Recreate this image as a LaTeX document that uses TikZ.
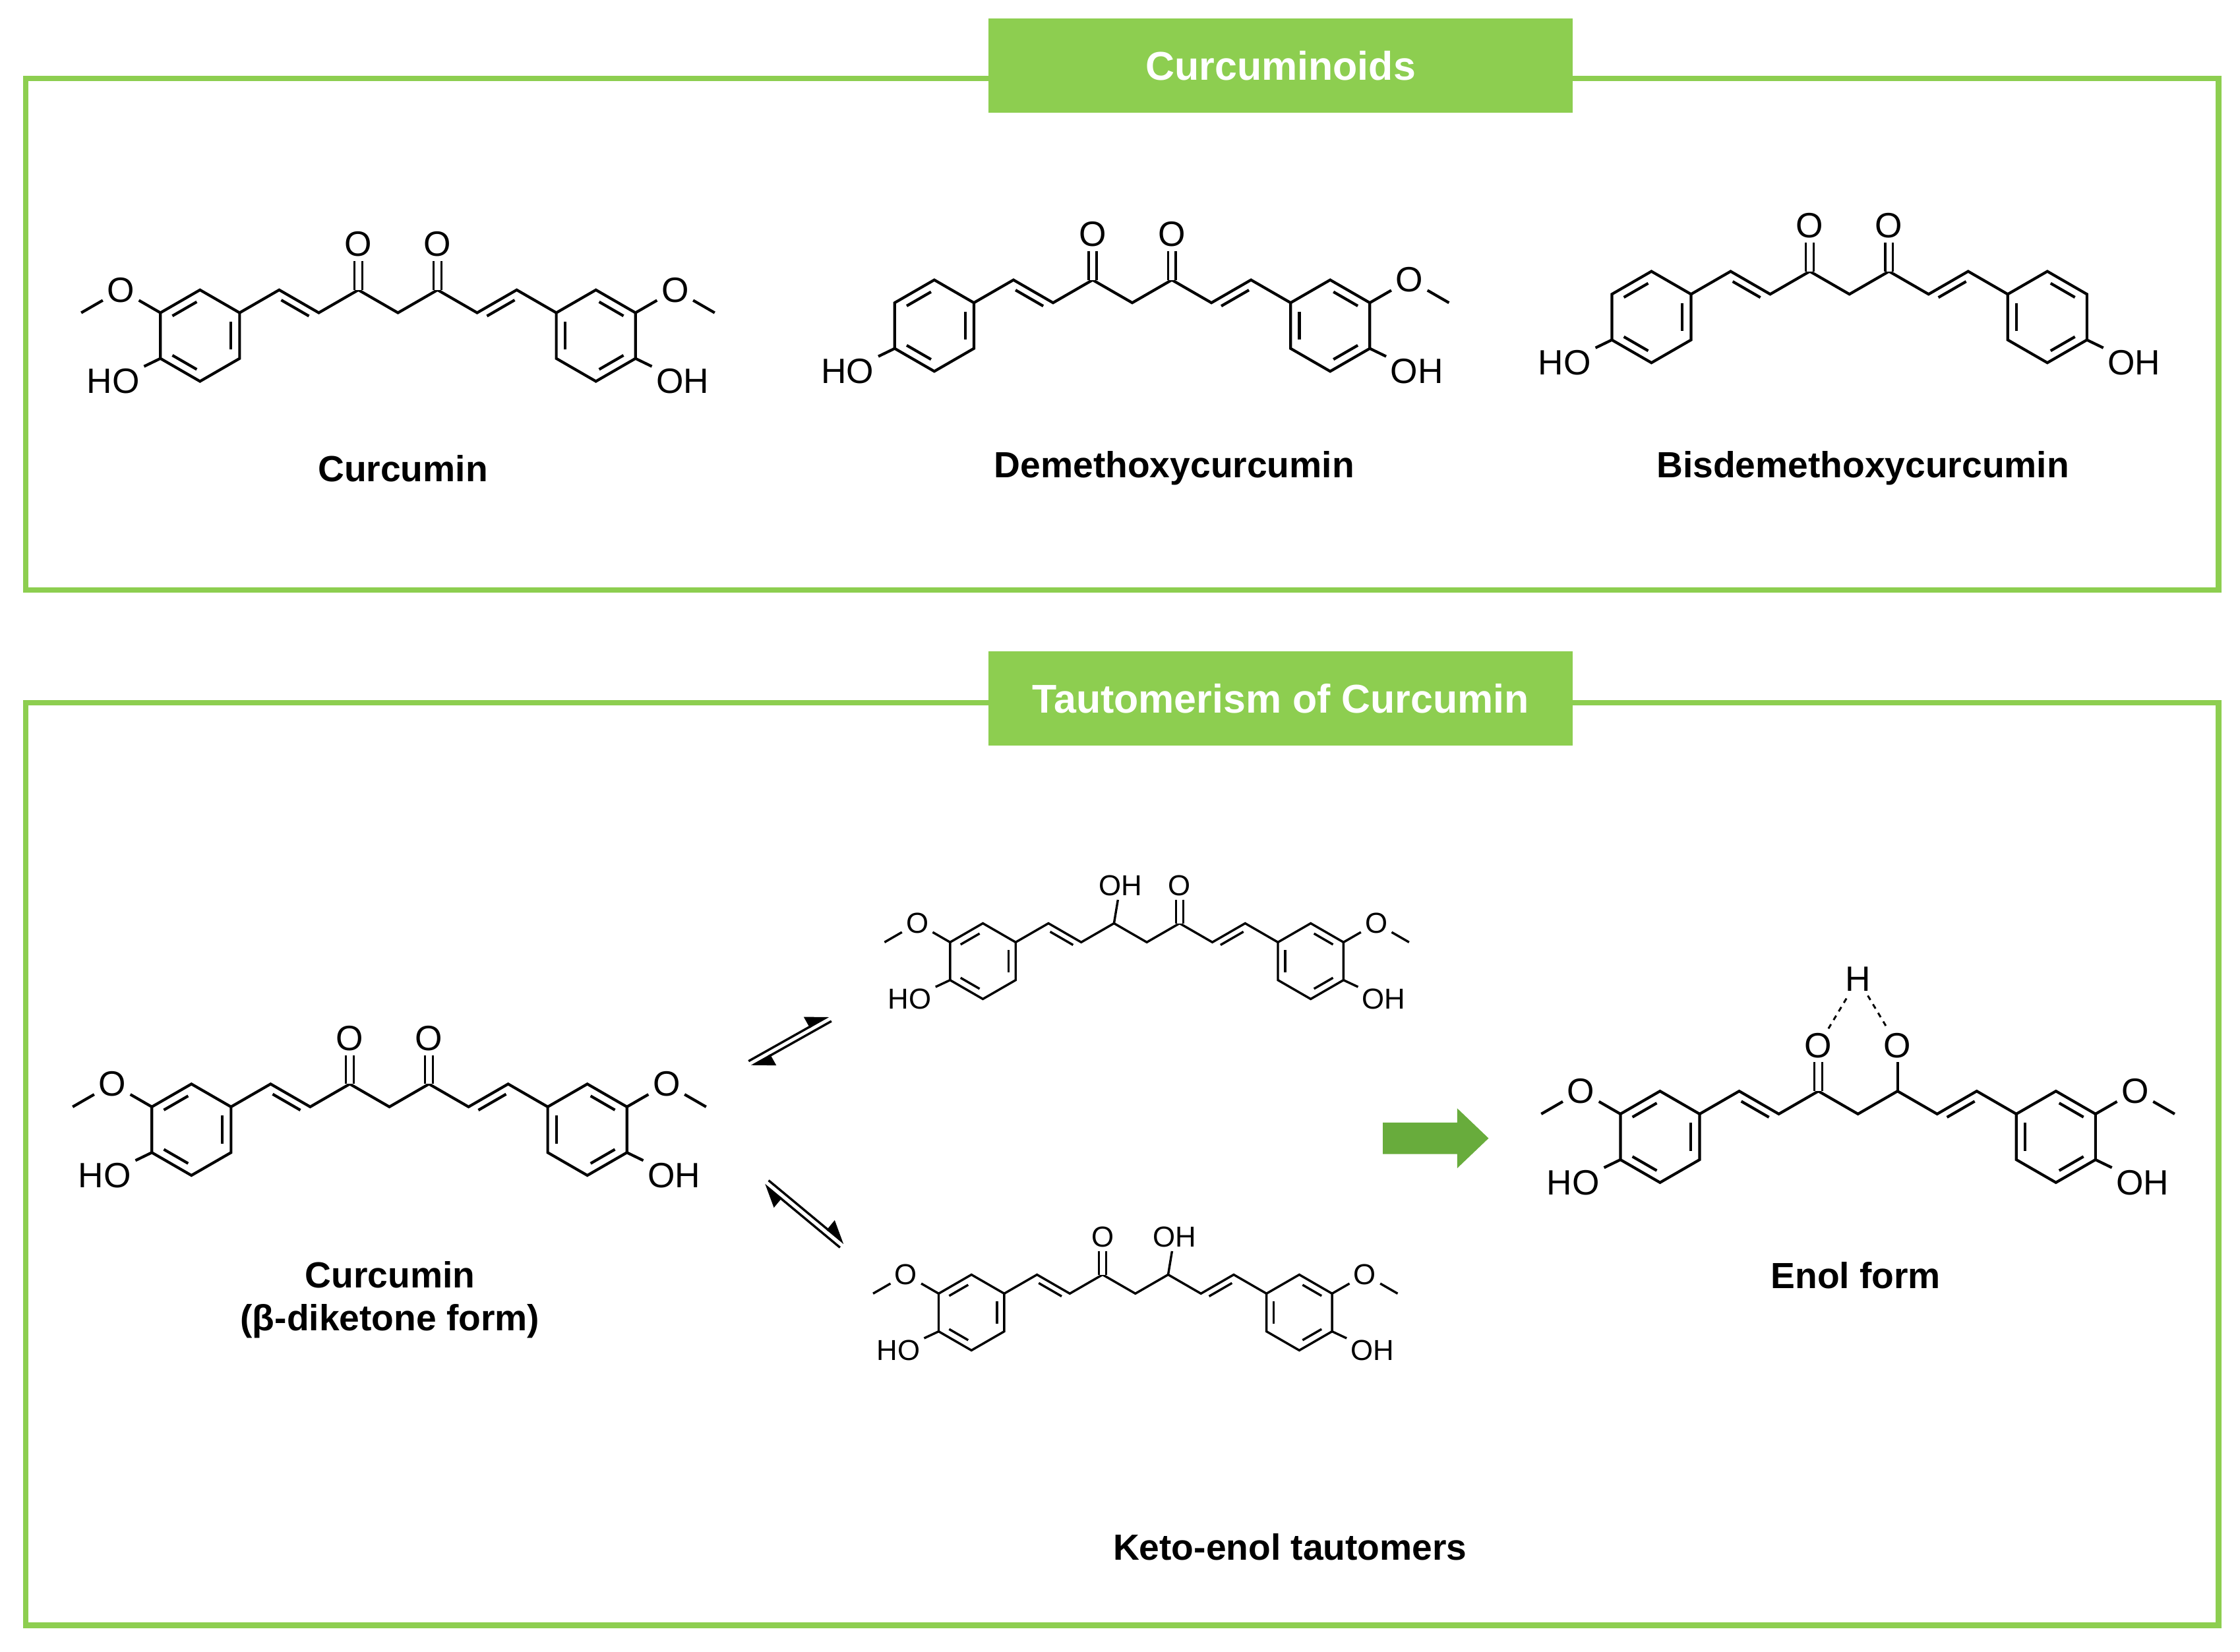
\documentclass[tikz,border=0pt]{standalone}
\usepackage{fontspec}
\setmainfont{Liberation Sans}
\usetikzlibrary{calc,arrows.meta}
\definecolor{grn}{RGB}{141,206,80}
\definecolor{grnd}{RGB}{104,172,60}
\newcommand\mol[9]{%
\pgfmathsetmacro\bb{#4*0.02}%
\begin{scope}[shift={(#2,#3)},x=\bb cm,y=\bb cm,line width=#9,
  atm/.style={inner sep=1.2pt,font=\fontsize{#8}{#8}\selectfont},
  dbl/.style={shorten <=1.5pt,shorten >=1.5pt}]
\coordinate (L1) at (0,1);\coordinate (L2) at (.866,.5);\coordinate (L3) at (.866,-.5);
\coordinate (L4) at (0,-1);\coordinate (L5) at (-.866,-.5);\coordinate (L6) at (-.866,.5);
\coordinate (R1) at (8.66,1);\coordinate (R2) at (9.526,.5);\coordinate (R3) at (9.526,-.5);
\coordinate (R4) at (8.66,-1);\coordinate (R5) at (7.794,-.5);\coordinate (R6) at (7.794,.5);
\coordinate (C1) at (3.464,1);\coordinate (C2) at (5.196,1);
\draw (L1)--(L2)--(L3)--(L4)--(L5)--(L6)--cycle;
\draw[dbl] (.675,.39)--(.675,-.39);\draw[dbl] (0,-.78)--(-.675,-.39);\draw[dbl] (-.675,.39)--(0,.78);
\draw (R1)--(R2)--(R3)--(R4)--(R5)--(R6)--cycle;
\draw[dbl] (8.66,.78)--(9.335,.39);\draw[dbl] (9.335,-.39)--(8.66,-.78);\draw[dbl] (7.985,-.39)--(7.985,.39);
\draw (L2)--(1.732,1)--(2.598,.5)--(C1)--(4.330,.5)--(C2)--(6.062,.5)--(6.928,1)--(R6);
\draw (1.777,.778)--(2.383,.428);
\draw (6.277,.428)--(6.883,.778);
\ifcase#7
 \node[atm] (#1-O1) at (3.464,2) {O};\node[atm] (#1-O2) at (5.196,2) {O};
 \draw[double,double distance=2.2pt,line width=.8*#9] (C1)--(#1-O1);
 \draw[double,double distance=2.2pt,line width=.8*#9] (C2)--(#1-O2);
\or
 \node[atm,xshift=.25em] (#1-O1) at (3.464,2) {OH};\node[atm] (#1-O2) at (5.196,2) {O};
 \draw (C1)--(#1-O1);
 \draw[double,double distance=2.2pt,line width=.8*#9] (C2)--(#1-O2);
\or
 \node[atm] (#1-O1) at (3.464,2) {O};\node[atm,xshift=.25em] (#1-O2) at (5.196,2) {OH};
 \draw[double,double distance=2.2pt,line width=.8*#9] (C1)--(#1-O1);
 \draw (C2)--(#1-O2);
\or
 \node[atm] (#1-O1) at (3.464,2) {O};\node[atm] (#1-O2) at (5.196,2) {O};
 \node[atm] (#1-H) at (4.33,3.45) {H};
 \draw[double,double distance=2.2pt,line width=.8*#9] (C1)--(#1-O1);
 \draw (C2)--(#1-O2);
 \draw[line width=.7*#9,dash pattern=on 2pt off 2pt] (#1-O1)--(#1-H)--(#1-O2);
\fi
\node[atm,xshift=-.3em] (#1-HO) at (-1.732,-1) {HO};\draw (L5)--(#1-HO);
\ifnum#5=1 \node[atm] (#1-OL) at (-1.732,1) {O};\draw (L6)--(#1-OL)--(-2.598,.5);\fi
\node[atm,xshift=.3em] (#1-OH) at (10.392,-1) {OH};\draw (R3)--(#1-OH);
\ifnum#6=1 \node[atm] (#1-OR) at (10.392,1) {O};\draw (R2)--(#1-OR)--(11.258,.5);\fi
\end{scope}}
\begin{document}
\begin{tikzpicture}[x=0.02cm,y=-0.02cm,
  frame/.style={draw=grn,line width=2.2pt},
  head/.style={fill=grn,text=white,font=\fontsize{16}{16}\selectfont\bfseries,minimum width=409*0.02cm,minimum height=66*0.02cm},
  lab/.style={font=\fontsize{14.5}{17}\selectfont\bfseries,align=center},
  eq/.style={line width=0.9pt,-{Triangle[left,length=8pt,width=9pt]}}]
\useasboundingbox (0,0) rectangle (1568,1156.3);
\draw[frame] (18,55) rectangle (1553,413);
\node[head] (h1) at (896.5,46) {Curcuminoids};
\draw[frame] (18,492) rectangle (1553,1138);
\node[head] (h2) at (896.5,489) {Tautomerism of Curcumin};
\mol{m1}{140}{235}{32}{1}{1}{0}{14}{1.1pt}
\mol{m2}{654}{228}{32}{0}{1}{0}{14}{1.1pt}
\mol{m3}{1156}{222}{32}{0}{0}{0}{14}{1.1pt}
\mol{m4}{134}{791}{32}{1}{1}{0}{14}{1.1pt}
\mol{m5}{688}{673}{26.5}{1}{1}{1}{11.5}{0.9pt}
\mol{m6}{680}{919}{26.5}{1}{1}{2}{11.5}{0.9pt}
\mol{m7}{1162}{796}{32}{1}{1}{3}{14}{1.1pt}
\node[lab] (t1) at (282,328) {Curcumin};
\node[lab] (t2) at (822,328) {Demethoxycurcumin};
\node[lab] (t3) at (1304,328) {Bisdemethoxycurcumin};
\node[lab] (t4) at (273,910) {Curcumin\\(β-diketone form)};
\node[lab] (t5) at (1299,893) {Enol form};
\node[lab] (t6) at (903,1083) {Keto-enol tautomers};
\coordinate (e1a) at (524,743);\coordinate (e1b) at (580,711.5);
\coordinate (e1c) at (582,715);\coordinate (e1d) at (526,746.5);
\draw[eq] (e1a)--(e1b);
\draw[eq] (e1c)--(e1d);
\coordinate (e2a) at (538,826.5);\coordinate (e2b) at (591,870.5);
\coordinate (e2c) at (588,873.5);\coordinate (e2d) at (535,829.5);
\draw[eq] (e2a)--(e2b);
\draw[eq] (e2c)--(e2d);
\fill[grnd] (968,786)--(1020,786)--(1020,776)--(1042,797)--(1020,818)--(1020,808)--(968,808)--cycle;
\end{tikzpicture}
\end{document}
